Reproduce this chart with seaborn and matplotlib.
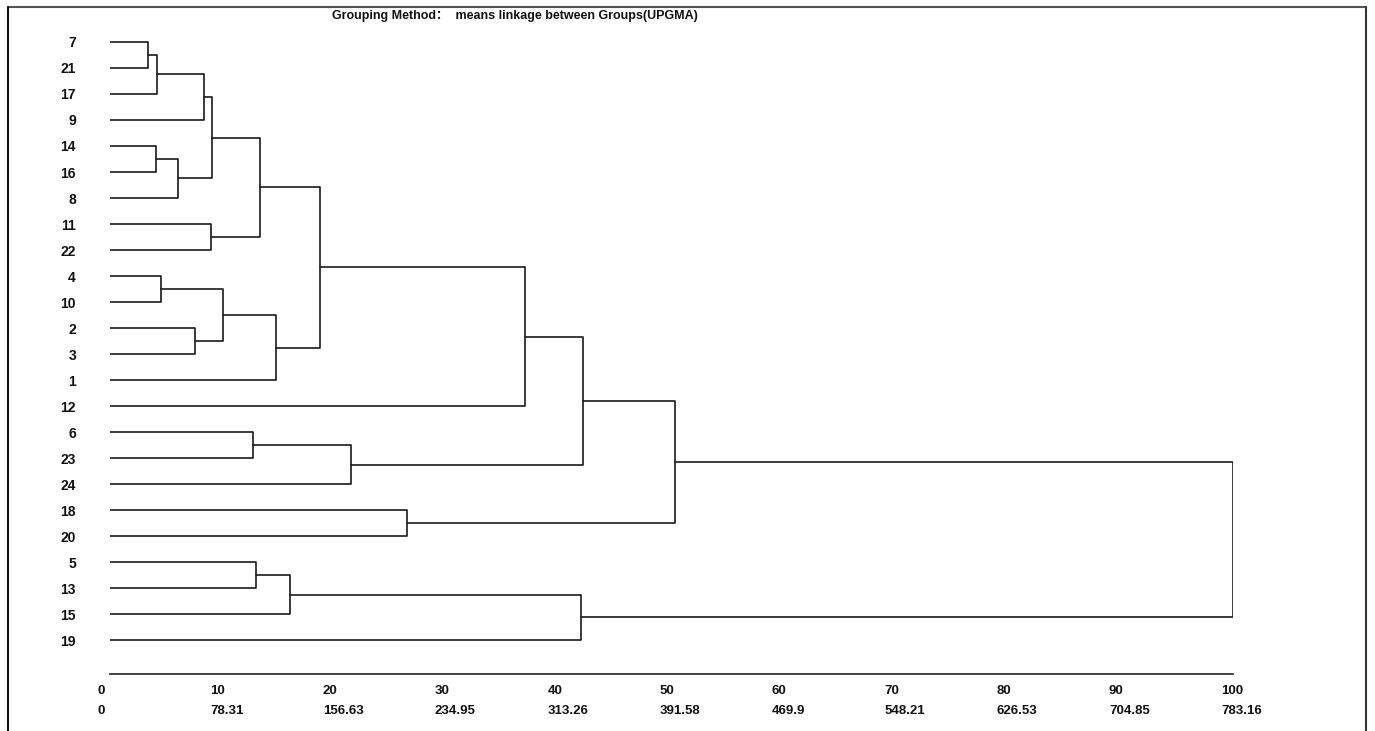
import matplotlib
matplotlib.use("Agg")
import matplotlib.pyplot as plt
from matplotlib import font_manager
from matplotlib.lines import Line2D
import seaborn as sns
import pandas as pd

# ---------------- data ----------------
leaf_order = ["7", "21", "17", "9", "14", "16", "8", "11", "22", "4", "10", "2", "3",
              "1", "12", "6", "23", "24", "18", "20", "5", "13", "15", "19"]

# UPGMA merges: node "mK" is the K-th merge below
merge_left = ["7", "m0", "m1", "14", "m3", "m2", "11", "m5", "4", "2", "m8", "m10",
              "m7", "m12", "6", "m14", "m13", "18", "m16", "5", "m19", "m20", "m18"]
merge_right = ["21", "17", "9", "16", "8", "m4", "22", "m6", "10", "3", "m9", "1",
               "m11", "12", "23", "24", "m15", "20", "m17", "13", "15", "19", "m21"]
merge_height = [3.36, 4.21, 8.40, 4.07, 6.02, 9.05, 8.96, 13.35, 4.51, 7.54, 10.09, 14.75,
                18.70, 36.94, 12.77, 21.45, 42.14, 26.44, 50.28, 13.04, 16.02, 41.89, 100.0]

tick_values = [0, 10, 20, 30, 40, 50, 60, 70, 80, 90, 100]
tick_raw = ["0", "78.31", "156.63", "234.95", "313.26", "391.58", "469.9",
            "548.21", "626.53", "704.85", "783.16"]

title = "Grouping Method\uff1a  means linkage between Groups(UPGMA)"

# ---------------- style ----------------
sns.set_style("white")
avail = {f.name for f in font_manager.fontManager.ttflist}
main_font = "Liberation Sans Narrow" if "Liberation Sans Narrow" in avail else "Liberation Sans"
plt.rcParams["font.family"] = [main_font, "DejaVu Sans", "Noto Sans CJK SC"]
plt.rcParams["font.weight"] = "bold"

W, H = 1375, 731
fig = plt.figure(figsize=(W / 100, H / 100), dpi=100)

px_left, px_right = 110, 1233.3
px_top, px_bottom = 30, 674
leaf_y0, leaf_dy = 42, 26
ax = fig.add_axes([px_left / W, 1 - px_bottom / H,
                   (px_right - px_left) / W, (px_bottom - px_top) / H])

# ---------------- build dendrogram geometry ----------------
pos_y = {lab: i for i, lab in enumerate(leaf_order)}
pos_x = {lab: 0.0 for lab in leaf_order}
rows = []
for k, (l, r, h) in enumerate(zip(merge_left, merge_right, merge_height)):
    yl, yr = pos_y[l], pos_y[r]
    xs = [pos_x[l], h, h, pos_x[r]]
    ys = [yl, yl, yr, yr]
    for j, (xx, yy) in enumerate(zip(xs, ys)):
        rows.append({"seg": k, "order": j, "x": xx, "y": yy})
    name = f"m{k}"
    pos_y[name] = (yl + yr) / 2
    pos_x[name] = h

df = pd.DataFrame(rows)
sns.lineplot(data=df, x="x", y="y", units="seg", estimator=None, sort=False,
             color="#1a1a1a", linewidth=1.2, ax=ax, legend=False)

ax.set_xlim(0, 100)
ax.set_ylim((px_bottom - leaf_y0) / leaf_dy, (px_top - leaf_y0) / leaf_dy)

# leaf labels
ax.set_yticks(range(len(leaf_order)))
ax.set_yticklabels(leaf_order, fontsize=10, fontweight="bold", color="#111111")
ax.tick_params(axis="y", length=0, pad=24.5)

# bottom axis
for s in ["top", "right", "left"]:
    ax.spines[s].set_visible(False)
ax.spines["bottom"].set_bounds(0, 100)
ax.spines["bottom"].set_color("#222222")
ax.spines["bottom"].set_linewidth(1.2)
ax.set_xticks(tick_values)
ax.set_xticklabels([])
ax.tick_params(axis="x", direction="in", length=3, width=1, color="#222222")
ax.set_xlabel("")
ax.set_ylabel("")

tr = ax.get_xaxis_transform()
for v, raw in zip(tick_values, tick_raw):
    xoff = v - 12 / ((px_right - px_left) / 100)
    ax.text(xoff, -(691 - px_bottom) / (px_bottom - px_top), str(v), transform=tr,
            ha="left", va="center", fontsize=9.5, fontweight="bold", color="#111111",
            clip_on=False)
    ax.text(xoff, -(711 - px_bottom) / (px_bottom - px_top), raw, transform=tr,
            ha="left", va="center", fontsize=9.5, fontweight="bold", color="#111111",
            clip_on=False)

# title
fig.text(515 / W, 1 - 16 / H, title, ha="center", va="center", fontsize=9,
         fontweight="bold", color="#111111")

# outer frame (top, left, right)
fy = 1 - 6.7 / H
fig.add_artist(Line2D([8 / W, 1366 / W], [fy, fy], transform=fig.transFigure,
                      color="#555555", linewidth=1.5))
fig.add_artist(Line2D([8 / W, 8 / W], [0, fy], transform=fig.transFigure,
                      color="#111111", linewidth=1.5))
fig.add_artist(Line2D([1366 / W, 1366 / W], [0, fy], transform=fig.transFigure,
                      color="#333333", linewidth=1.5))

fig.savefig("out.png", dpi=100)
